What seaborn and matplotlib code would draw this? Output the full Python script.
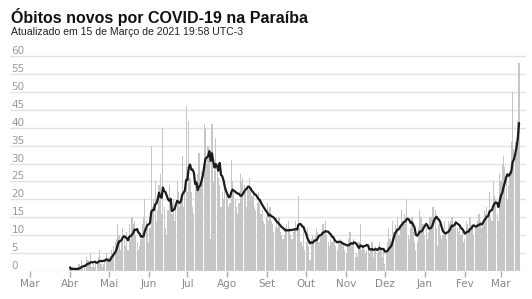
import numpy as np
import pandas as pd
import matplotlib
matplotlib.use("Agg")
import matplotlib.pyplot as plt
import matplotlib.dates as mdates
import seaborn as sns

sns.set_theme(style="white")
plt.rcParams["font.family"] = ["DejaVu Sans"]

title = "Óbitos novos por COVID-19 na Paraíba"
subtitle = "Atualizado em 15 de Março de 2021 19:58 UTC-3"

start_date = "2020-04-01"
apr = [1,0,1,0,1,0,1, 2,1,3,1,2,0,4, 3,2,5,1,2,1,3, 2,4,6,2,1,2,3, 5,3]
may = [4,3,6,5,7,8,9, 13,10,6,8,12,10,7, 11,6,13,9,15,13,14, 10,8,6,7,9,13,15, 20,14,12]
jun = [8,12,35,18,20,25,14, 17,24,27,16,40,18,12, 10,17,24,20,16,20,14, 18,25,22,18,20,32,18, 22,46]
jul = [22,42,26,22,18,16,24, 25,27,33,24,28,26,41, 40,30,35,34,9,41,25, 28,37,30,26,24,18,22, 20,24,22]
aug = [20,18,19,31,25,22,20, 18,16,19,27,25,26,24, 22,18,23,26,22,21,22, 18,17,19,22,20,16,17, 14,13,15]
sep = [19,14,18,14,13,11,12, 15,12,15,11,10,9,10, 12,13,14,12,10,9,11, 12,14,13,21,12,8,7, 11,6]
oct_ = [8,12,7,3,9,10,9, 10,12,11,8,10,11,13, 11,14,10,8,7,9,8, 10,9,7,6,8,9,8, 7,8,6]
nov = [5,7,9,11,8,7,9, 4,5,4,8,13,6,7, 6,5,6,7,5,6,8, 4,6,7,5,7,8,6, 4,6]
dec = [2,5,8,12,9,7,14, 11,13,12,15,10,12,17, 14,16,13,20,10,9,12, 15,11,8,6,8,12,17, 15,13,13]
jan = [10,12,9,11,15,15,18, 18,17,12,7,13,10,9, 10,14,10,9,14,13,14, 15,13,12,14,12,11,12, 10,11,8]
feb = [9,14,13,12,15,12,13, 10,12,13,14,16,14,12, 13,17,16,18,17,22,15, 14,25,21,20,16,14,27]
mar = [25,30,32,29,26,20,24, 28,36,50,34,36,33,42, 58]

month_starts = pd.date_range("2020-03-01", "2021-03-01", freq="MS")
month_labels = ["Mar", "Abr", "Mai", "Jun", "Jul", "Ago", "Set", "Out",
                "Nov", "Dez", "Jan", "Fev", "Mar"]

daily = apr + may + jun + jul + aug + sep + oct_ + nov + dec + jan + feb + mar
dates = pd.date_range(start_date, periods=len(daily), freq="D")
xnum = mdates.date2num(dates)
moving_avg = pd.Series(daily, dtype=float).rolling(7, min_periods=1).mean().to_numpy()

W, H = 532, 299
fig = plt.figure(figsize=(W / 100, H / 100), dpi=100)
ppu = 215 / 60.0
ytop = 61
ax = fig.add_axes([10 / W, (H - 271) / H, (526 - 10) / W, (ytop * ppu) / H])

sns.barplot(x=xnum, y=daily, native_scale=True, color="#c6c6c6", saturation=1,
            width=0.9, linewidth=0, errorbar=None, ax=ax)
sns.lineplot(x=xnum, y=moving_avg, color="#1c1c1c", linewidth=1.6, ax=ax)

pxday = (501 - 30) / 365.0
x0 = mdates.date2num(pd.Timestamp("2020-03-01"))
ax.set_xlim(x0 - 20 / pxday, x0 + 496 / pxday)
ax.set_ylim(0, ytop)

for s in ax.spines.values():
    s.set_visible(False)

ax.set_yticks(range(0, 61, 5))
ax.set_yticklabels([str(v) for v in range(0, 61, 5)])
ax.yaxis.grid(True, color="#e2e2e2", linewidth=1)
ax.xaxis.grid(False)
ax.set_axisbelow(True)
ax.tick_params(axis="y", length=0, pad=-1, labelsize=7.5, labelcolor="#9a9a9a")
for lbl in ax.get_yticklabels():
    lbl.set_horizontalalignment("left")
    lbl.set_verticalalignment("bottom")

ax.set_xticks(mdates.date2num(month_starts))
ax.set_xticklabels(month_labels)
ax.tick_params(axis="x", bottom=True, length=4, width=1, color="#aaaaaa",
               pad=1.5, labelsize=7.5, labelcolor="#888888", direction="out")
ax.set_xlabel("")
ax.set_ylabel("")

fig.text(11 / W, 1 - 23 / H, title, fontsize=11.5, fontweight="bold",
         family="Liberation Sans", va="baseline", ha="left", color="#111111")
fig.text(11 / W, 1 - 35 / H, subtitle, fontsize=7.6,
         family="Liberation Sans", va="baseline", ha="left", color="#222222")

fig.savefig("out.png", dpi=100)
